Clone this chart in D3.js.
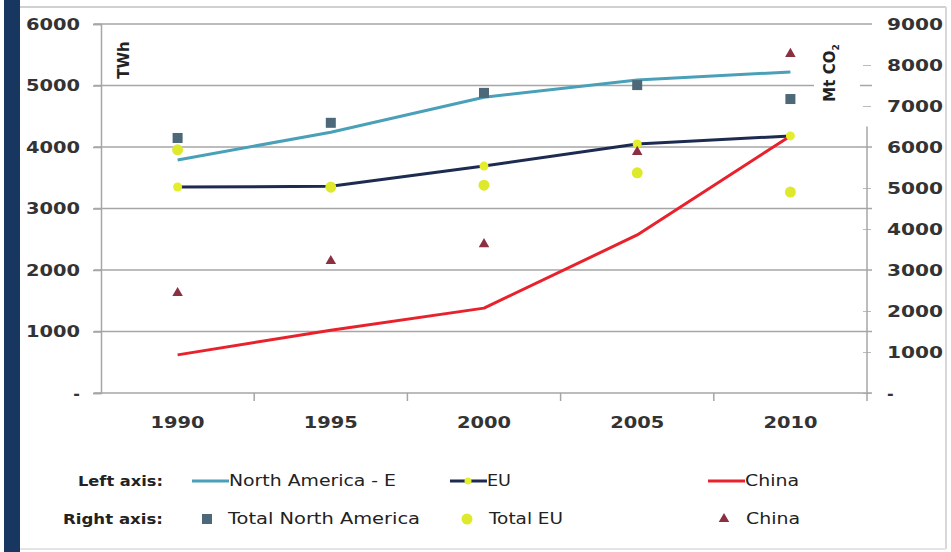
<!DOCTYPE html>
<html>
<head>
<meta charset="utf-8">
<script src="https://cdn.jsdelivr.net/npm/d3@7"></script>
<style>
  html, body { margin: 0; padding: 0; background: #fff; }
  svg { display: block; }
  .tick text { font-family: "DejaVu Sans", sans-serif; font-weight: bold; fill: #333; }
</style>
</head>
<body>
<svg class="chart"></svg>
<script>
// data
const years = [1990, 1995, 2000, 2005, 2010];
// left axis, TWh
const naElec    = [3790, 4240, 4810, 5090, 5220];
const euElec    = [3350, 3360, 3690, 4050, 4180];
const chinaElec = [620, 1020, 1380, 2570, 4180];
// right axis, Mt CO2
const naCO2    = [6220, 6590, 7320, 7510, 7170];
const euCO2    = [5930, 5020, 5070, 5370, 4900];
const chinaCO2 = [2440, 3220, 3630, 5880, 8270];

const leftTicks = [0, 1000, 2000, 3000, 4000, 5000, 6000];
const rightTicks = [0, 1000, 2000, 3000, 4000, 5000, 6000, 7000, 8000, 9000];

const width = 951, height = 552;
const margin = { top: 24, bottom: 159, left: 101, right: 84 };

const svg = d3.select(".chart")
    .attr("width", width)
    .attr("height", height);

// frame: dark strip on the left, thin grey border
svg.append("rect").attr("x", 4).attr("y", 0).attr("width", 16).attr("height", height).attr("fill", "#183760");
svg.append("line").attr("x1", 20).attr("x2", 946).attr("y1", 7).attr("y2", 7).attr("stroke", "#d0d0d0").attr("stroke-width", 2);
svg.append("line").attr("x1", 946).attr("x2", 946).attr("y1", 7).attr("y2", 549).attr("stroke", "#d8d8d8").attr("stroke-width", 2);
svg.append("line").attr("x1", 20).attr("x2", 946).attr("y1", 549).attr("y2", 549).attr("stroke", "#e4e4e4").attr("stroke-width", 2);

const x = d3.scaleBand().domain(years).range([margin.left, width - margin.right]);
const cx = d => x(d) + x.bandwidth() / 2;
const yL = d3.scaleLinear().domain([0, 6000]).range([height - margin.bottom, margin.top]);
const yR = d3.scaleLinear().domain([0, 9000]).range([height - margin.bottom, margin.top]);
const x0 = margin.left, x1 = width - margin.right;

// gridlines
svg.append("g")
  .selectAll("line")
  .data(leftTicks.slice(1))
  .enter()
  .append("line")
    .attr("x1", x0 - 7).attr("x2", x1 + 5)
    .attr("y1", d => yL(d)).attr("y2", d => yL(d))
    .attr("stroke", "#a6a6a6").attr("stroke-width", 1.5);

// left axis
const gL = svg.append("g")
    .attr("transform", `translate(${x0},0)`)
    .call(d3.axisLeft(yL).tickValues(leftTicks).tickSize(8).tickPadding(13)
      .tickFormat(d => d === 0 ? "-" : d));
gL.select(".domain").attr("stroke", "#a6a6a6").attr("stroke-width", 1.5);
gL.selectAll(".tick line").attr("stroke", "#a6a6a6").attr("stroke-width", 1.5);
gL.selectAll(".tick text").attr("font-size", 16)
    .filter(d => d !== 0).attr("textLength", 54).attr("lengthAdjust", "spacingAndGlyphs");

// right axis
const gR = svg.append("g")
    .attr("transform", `translate(${x1},0)`)
    .call(d3.axisRight(yR).tickValues(rightTicks).tickSize(4).tickPadding(16)
      .tickFormat(d => d === 0 ? "-" : d));
gR.select(".domain").remove();
gR.selectAll(".tick line").attr("stroke", "#bbb").attr("stroke-width", 1).attr("x1", -4);
gR.selectAll(".tick text").attr("font-size", 16)
    .filter(d => d !== 0).attr("textLength", 56).attr("lengthAdjust", "spacingAndGlyphs");
svg.append("line")
    .attr("x1", x1).attr("x2", x1)
    .attr("y1", yR(6500)).attr("y2", yR(0) + 8)
    .attr("stroke", "#a6a6a6").attr("stroke-width", 1.5);

// x axis with ticks between categories
svg.append("line")
    .attr("x1", x0 - 7).attr("x2", x1 + 5)
    .attr("y1", yL(0)).attr("y2", yL(0))
    .attr("stroke", "#a6a6a6").attr("stroke-width", 1.5);
svg.append("g")
  .selectAll("line")
  .data(years.slice(1))
  .enter()
  .append("line")
    .attr("x1", d => x(d)).attr("x2", d => x(d))
    .attr("y1", yL(0)).attr("y2", yL(0) + 8)
    .attr("stroke", "#a6a6a6").attr("stroke-width", 1.5);
svg.append("g")
  .selectAll("text")
  .data(years)
  .enter()
  .append("text")
    .attr("x", d => cx(d))
    .attr("y", yL(0) + 35)
    .attr("text-anchor", "middle")
    .attr("font-family", "DejaVu Sans, sans-serif")
    .attr("font-weight", "bold")
    .attr("font-size", 16)
    .attr("fill", "#333")
    .attr("textLength", 54).attr("lengthAdjust", "spacingAndGlyphs")
    .text(d => d);

// axis titles
svg.append("text")
    .attr("transform", `translate(129,60) rotate(-90)`)
    .attr("text-anchor", "middle")
    .attr("font-family", "DejaVu Sans, sans-serif").attr("font-weight", "bold")
    .attr("font-size", 15).attr("fill", "#222")
    .text("TWh");
svg.append("rect").attr("x", 814).attr("y", 32).attr("width", 46).attr("height", 96).attr("fill", "#fff");
const mt = svg.append("text")
    .attr("transform", `translate(835,73) rotate(-90)`)
    .attr("text-anchor", "middle")
    .attr("font-family", "DejaVu Sans, sans-serif").attr("font-weight", "bold")
    .attr("font-size", 15).attr("fill", "#222");
mt.append("tspan").text("Mt CO");
mt.append("tspan").attr("font-size", 9).attr("dy", 4).text("2");

// lines on the left axis
const line = d3.line()
    .x((d, i) => cx(years[i]))
    .y(d => yL(d));

const leftSeries = [
  { name: "North America - E", values: naElec, color: "#4aa0b8", w: 167 },
  { name: "EU", values: euElec, color: "#1d2b50", w: 24 },
  { name: "China", values: chinaElec, color: "#e8222c", w: 54 }
];

svg.append("g")
  .selectAll("path")
  .data(leftSeries)
  .enter()
  .append("path")
    .attr("d", d => line(d.values))
    .attr("fill", "none")
    .attr("stroke", d => d.color)
    .attr("stroke-width", 3)
    .attr("stroke-linejoin", "round");

// small yellow markers on the EU line
svg.append("g")
  .selectAll("circle")
  .data(euElec)
  .enter()
  .append("circle")
    .attr("cx", (d, i) => cx(years[i]))
    .attr("cy", d => yL(d))
    .attr("r", 4.5)
    .attr("fill", "#e4ee2a");

// points on the right axis
svg.append("g")
  .selectAll("rect")
  .data(naCO2)
  .enter()
  .append("rect")
    .attr("x", (d, i) => cx(years[i]) - 5)
    .attr("y", d => yR(d) - 5)
    .attr("width", 10).attr("height", 10)
    .attr("fill", "#4d6878");

svg.append("g")
  .selectAll("circle")
  .data(euCO2)
  .enter()
  .append("circle")
    .attr("cx", (d, i) => cx(years[i]))
    .attr("cy", d => yR(d))
    .attr("r", 5.5)
    .attr("fill", "#dfe92c");

const tri = d3.symbol().type(d3.symbolTriangle).size(48);
svg.append("g")
  .selectAll("path")
  .data(chinaCO2)
  .enter()
  .append("path")
    .attr("transform", (d, i) => `translate(${cx(years[i])},${yR(d)})`)
    .attr("d", tri)
    .attr("fill", "#8a3040");

// legend
const lg = svg.append("g")
    .attr("font-family", "DejaVu Sans, sans-serif")
    .attr("font-size", 16)
    .attr("fill", "#222");

const row1 = 481, row2 = 519;
lg.append("text").attr("x", 163).attr("y", row1 + 5).attr("text-anchor", "end")
    .attr("font-weight", "bold").attr("font-size", 14)
    .attr("textLength", 85).attr("lengthAdjust", "spacingAndGlyphs").text("Left axis:");
lg.append("text").attr("x", 163).attr("y", row2 + 5).attr("text-anchor", "end")
    .attr("font-weight", "bold").attr("font-size", 14)
    .attr("textLength", 100).attr("lengthAdjust", "spacingAndGlyphs").text("Right axis:");

const legLines = [
  { s: leftSeries[0], x: 192 },
  { s: leftSeries[1], x: 450 },
  { s: leftSeries[2], x: 708 }
];
legLines.forEach(d => {
  lg.append("line")
      .attr("x1", d.x).attr("x2", d.x + 37)
      .attr("y1", row1).attr("y2", row1)
      .attr("stroke", d.s.color).attr("stroke-width", 3);
  if (d.s.name === "EU") {
    lg.append("circle").attr("cx", d.x + 18).attr("cy", row1).attr("r", 3.5).attr("fill", "#e4ee2a");
  }
  lg.append("text").attr("x", d.x + 37).attr("y", row1 + 5)
      .attr("textLength", d.s.w).attr("lengthAdjust", "spacingAndGlyphs").text(d.s.name);
});

lg.append("rect").attr("x", 202).attr("y", row2 - 5).attr("width", 10).attr("height", 10).attr("fill", "#4d6878");
lg.append("text").attr("x", 228).attr("y", row2 + 5)
    .attr("textLength", 192).attr("lengthAdjust", "spacingAndGlyphs").text("Total North America");
lg.append("circle").attr("cx", 467).attr("cy", row2).attr("r", 5.5).attr("fill", "#dfe92c");
lg.append("text").attr("x", 489).attr("y", row2 + 5)
    .attr("textLength", 74).attr("lengthAdjust", "spacingAndGlyphs").text("Total EU");
lg.append("path").attr("transform", `translate(724,${row2})`).attr("d", tri).attr("fill", "#8a3040");
lg.append("text").attr("x", 746).attr("y", row2 + 5)
    .attr("textLength", 54).attr("lengthAdjust", "spacingAndGlyphs").text("China");
</script>
</body>
</html>
